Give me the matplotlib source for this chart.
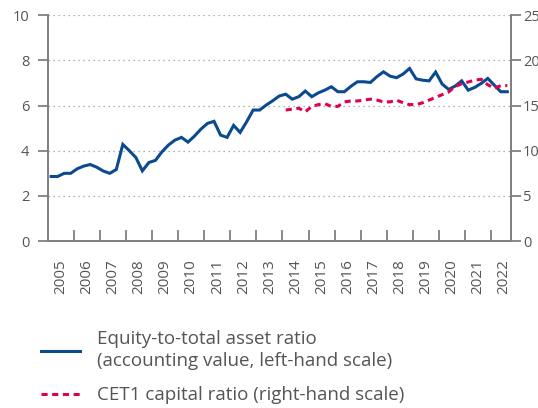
import numpy as np
import pandas as pd
import matplotlib
matplotlib.use("Agg")
import matplotlib.pyplot as plt
from matplotlib.lines import Line2D

plt.rcParams["font.family"] = ["Open Sans", "DejaVu Sans"]

BLUE = "#0b4a8f"
RED = "#e0004d"
GREY = "#808080"
TEXT = "#555555"

# quarterly data, 2005Q1 - 2022Q3
equity_ratio = [
    2.86, 2.86, 3.00, 3.00,   # 2005
    3.20, 3.32, 3.39, 3.27,   # 2006
    3.10, 3.00, 3.17, 4.28,   # 2007
    4.00, 3.70, 3.11, 3.48,   # 2008
    3.57, 3.95, 4.25, 4.47,   # 2009
    4.59, 4.38, 4.65, 4.96,   # 2010
    5.21, 5.30, 4.69, 4.59,   # 2011
    5.12, 4.81, 5.28, 5.80,   # 2012
    5.80, 6.02, 6.21, 6.42,   # 2013
    6.50, 6.28, 6.39, 6.64,   # 2014
    6.39, 6.56, 6.68, 6.83,   # 2015
    6.61, 6.61, 6.85, 7.05,   # 2016
    7.05, 7.02, 7.28, 7.49,   # 2017
    7.30, 7.23, 7.39, 7.64,   # 2018
    7.18, 7.12, 7.09, 7.48,   # 2019
    6.95, 6.71, 6.86, 7.09,   # 2020
    6.68, 6.80, 6.98, 7.20,   # 2021
    6.90, 6.61, 6.61,         # 2022
]

# CET1 ratio, 2014Q1 - 2022Q3
cet1_ratio = [
    14.5, 14.6, 14.7, 14.3,   # 2014
    14.9, 15.1, 15.2, 14.9,   # 2015
    14.9, 15.4, 15.5, 15.5,   # 2016
    15.6, 15.7, 15.6, 15.4,   # 2017
    15.4, 15.6, 15.3, 15.1,   # 2018
    15.1, 15.3, 15.6, 15.9,   # 2019
    16.2, 16.5, 17.1, 17.4,   # 2020
    17.6, 17.8, 17.9, 17.3,   # 2021
    16.9, 17.2, 17.2,         # 2022
]

quarters = pd.period_range("2005Q1", "2022Q3", freq="Q")
x_all = quarters.year + (quarters.quarter - 0.5) / 4
x_cet1 = x_all[-len(cet1_ratio):]

year_labels = [str(y) for y in range(2005, 2023)]

fig = plt.figure(figsize=(5.38, 4.08), dpi=100)
ax = fig.add_axes([0.089, 0.409, 0.860, 0.554])
ax2 = ax.twinx()

ax.plot(x_all, equity_ratio, color=BLUE, lw=2.2, solid_joinstyle="miter", zorder=3)
ax2.plot(x_cet1, cet1_ratio, color=RED, lw=2.2, dashes=(2.0, 1.5), zorder=3)

ax.set_xlim(2005, 2022.75)
ax.set_ylim(0, 10)
ax2.set_ylim(0, 25)
ax.set_yticks(range(0, 11, 2))
ax2.set_yticks(range(0, 26, 5))

# year labels centred in each year, ticks at year boundaries
ax.set_xticks([y + 0.5 for y in range(2005, 2023)])
ax.set_xticklabels(year_labels, rotation=90)
ax.set_xticks(range(2006, 2023), minor=True)
ax.tick_params(axis="x", which="major", length=0, pad=13, labelsize=11, colors=TEXT)
ax.tick_params(axis="x", which="minor", direction="in", length=8, width=1.3, color=GREY)

ax.tick_params(axis="y", direction="out", length=7.5, width=1.3, color=GREY,
               labelsize=10.5, labelcolor=TEXT, pad=6)
ax2.tick_params(axis="y", direction="out", length=7, width=1.3, color=GREY,
                labelsize=10.5, labelcolor=TEXT, pad=2)

ax.grid(axis="y", linestyle=(0, (1, 3)), color="#9a9a9a", lw=0.9)
ax.set_axisbelow(True)

for a in (ax, ax2):
    a.spines["top"].set_visible(False)
    for s in ("left", "right", "bottom"):
        a.spines[s].set_color(GREY)
        a.spines[s].set_linewidth(1.3)

handles = [
    Line2D([], [], color=BLUE, lw=2.2),
    Line2D([], [], color=RED, lw=2.2, dashes=(2.0, 1.5)),
]
labels = [
    "Equity-to-total asset ratio\n(accounting value, left-hand scale)",
    "CET1 capital ratio (right-hand scale)",
]
leg = fig.legend(handles, labels, loc="upper left", bbox_to_anchor=(0.062, 0.209),
                 frameon=False, fontsize=13.5, handlelength=2.1, handletextpad=0.88,
                 labelspacing=0.85, labelcolor=TEXT, borderaxespad=0)
for t in leg.get_texts():
    t.set_linespacing(1.3)

fig.savefig("out.png", dpi=100)
